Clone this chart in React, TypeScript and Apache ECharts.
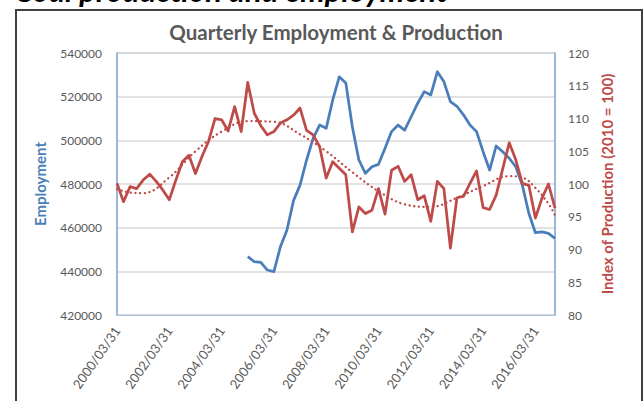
import React, { useEffect, useRef } from "react";
import * as echarts from "echarts";

// ---- data ----
const years: number[] = [2000, 2001, 2002, 2003, 2004, 2005, 2006, 2007, 2008, 2009, 2010, 2011, 2012, 2013, 2014, 2015, 2016];
const quarterEnds: string[] = ["03/31", "06/30", "09/30", "12/31"];
const categories: string[] = years.flatMap((y) => quarterEnds.map((q) => `${y}/${q}`));

// Index of Production (2010 = 100), 2000Q1 .. 2016Q4
const production: number[] = [
  100.1, 97.3, 99.6, 99.3, 100.6, 101.5, 100.4, 99.1, 97.6, 100.6,
  103.4, 104.4, 101.6, 104.2, 106.5, 110.0, 109.8, 108.1, 111.8, 108.0,
  115.5, 110.8, 108.9, 107.5, 108.0, 109.3, 109.8, 110.5, 111.6, 108.2,
  107.5, 105.7, 100.9, 103.4, 102.4, 101.4, 92.7, 96.5, 95.5, 96.0,
  99.3, 95.4, 102.1, 102.7, 100.4, 101.4, 97.6, 98.2, 94.3, 100.4,
  99.3, 90.2, 97.9, 98.1, 100.1, 102.0, 96.4, 96.1, 98.3, 102.3,
  106.3, 103.7, 100.1, 99.8, 94.8, 97.8, 100.0, 96.3,
];

// Employment, starts at 2005/03/31 (index 20)
const employmentStart = 20;
const employment: number[] = [
  446700, 444400, 444100, 440600, 439900, 451300, 458900, 472400, 479500, 491000,
  500900, 507000, 505500, 518500, 529100, 526300, 506200, 491000, 484900, 487900,
  489000, 496400, 504000, 507000, 504700, 510800, 517000, 522300, 520800, 531400,
  526900, 517700, 515600, 511700, 507000, 504000, 494800, 486400, 497400, 494800,
  491800, 487900, 479500, 466600, 457700, 458100, 457400, 455100,
];

// Polynomial trend of production, read at selected quarters (index -> value)
const trendIdx: number[] = [0, 2, 4, 8, 12, 16, 20, 24, 28, 32, 36, 40, 44, 48, 52, 56, 60, 62, 64, 66, 67];
const trendVal: number[] = [99.2, 98.7, 98.6, 101.0, 105.0, 108.0, 109.6, 109.5, 107.6, 105.0, 101.8, 98.9, 96.9, 96.5, 97.9, 99.7, 101.2, 101.0, 99.4, 97.0, 95.2];

const leftTicks = { min: 420000, max: 540000, interval: 20000 };
const rightTicks = { min: 80, max: 120, interval: 5 };

const BLUE = "#4A7EBB";
const RED = "#BE4B48";
const AXIS_TXT = "#595959";
const FONT = "Lato, 'Noto Sans', sans-serif";

export default function App() {
  const ref = useRef<HTMLDivElement>(null);
  useEffect(() => {
    if (!ref.current) return;
    const chart = echarts.init(ref.current, undefined, { renderer: "svg" });
    const empData: (number | null)[] = categories.map((_, i) =>
      i >= employmentStart && i - employmentStart < employment.length ? employment[i - employmentStart] : null
    );
    const trendData: (number | null)[] = categories.map(() => null);
    trendIdx.forEach((ix, k) => (trendData[ix] = trendVal[k]));

    chart.setOption({
      animation: false,
      backgroundColor: "#ffffff",
      textStyle: { fontFamily: FONT },
      title: {
        text: "Quarterly Employment & Production",
        left: 331,
        textAlign: "center",
        top: 16,
        textStyle: { color: AXIS_TXT, fontSize: 20.5, fontWeight: "bold", fontFamily: FONT },
      },
      graphic: [
        {
          type: "text",
          left: 14,
          top: -26,
          silent: true,
          style: {
            text: "Coal production and employment",
            fill: "#000",
            font: "italic bold 31px Lato, sans-serif",
          },
        },
        {
          type: "rect",
          shape: { x: 16, y: 10, width: 626, height: 400 },
          silent: true,
          z: 100,
          style: { fill: "none", stroke: "#404040", lineWidth: 2 },
        },
      ],
      grid: {
        left: 117,
        top: 53,
        right: 89,
        bottom: 86,
        show: true,
        borderColor: "#A9C0DD",
        borderWidth: 1,
      },
      xAxis: {
        type: "category",
        boundaryGap: false,
        data: categories,
        axisLine: { show: true, lineStyle: { color: "#A9C0DD", width: 1 } },
        axisTick: { show: false },
        splitLine: { show: false },
        axisLabel: {
          interval: 7,
          rotate: 55,
          color: AXIS_TXT,
          fontSize: 13,
          fontFamily: FONT,
          margin: 13,
        },
      },
      yAxis: [
        {
          type: "value",
          position: "left",
          min: leftTicks.min,
          max: leftTicks.max,
          interval: leftTicks.interval,
          name: "Employment",
          nameLocation: "middle",
          nameRotate: 90,
          nameGap: 70,
          nameTextStyle: { color: BLUE, fontSize: 15, fontWeight: "bold", fontFamily: FONT },
          axisLine: { show: true, lineStyle: { color: "#9DB7D8", width: 2 } },
          axisTick: { show: false },
          axisLabel: {
            color: AXIS_TXT,
            fontSize: 12,
            fontFamily: FONT,
            margin: 15,
            formatter: (v: number) => String(v),
          },
          splitLine: { show: true, lineStyle: { color: "#D9D9D9", width: 1.5 } },
        },
        {
          type: "value",
          position: "right",
          min: rightTicks.min,
          max: rightTicks.max,
          interval: rightTicks.interval,
          name: "Index of Production (2010 = 100)",
          nameLocation: "middle",
          nameRotate: 90,
          nameGap: 38,
          nameTextStyle: { color: RED, fontSize: 15, fontWeight: "bold", fontFamily: FONT },
          axisLine: { show: true, lineStyle: { color: "#9DB7D8", width: 2 } },
          axisTick: { show: false },
          axisLabel: { color: AXIS_TXT, fontSize: 12, fontFamily: FONT, margin: 13 },
          splitLine: { show: false },
        },
      ],
      series: [
        {
          name: "Employment",
          type: "line",
          yAxisIndex: 0,
          data: empData,
          showSymbol: false,
          symbol: "none",
          lineStyle: { color: BLUE, width: 2.75, join: "round" },
          z: 2,
        },
        {
          name: "Production",
          type: "line",
          yAxisIndex: 1,
          data: production,
          showSymbol: false,
          symbol: "none",
          lineStyle: { color: RED, width: 2.75, join: "round" },
          z: 3,
        },
        {
          name: "Trend",
          type: "line",
          yAxisIndex: 1,
          data: trendData,
          connectNulls: true,
          smooth: 0.4,
          showSymbol: false,
          symbol: "none",
          lineStyle: { color: RED, width: 2.3, type: [0.1, 4.6], cap: "round" },
          z: 4,
        },
      ],
    });
    return () => chart.dispose();
  }, []);
  return (
    <div
      ref={ref}
      style={{ position: "absolute", left: 0, top: 0, width: 644, height: 401, background: "#fff" }}
    />
  );
}
